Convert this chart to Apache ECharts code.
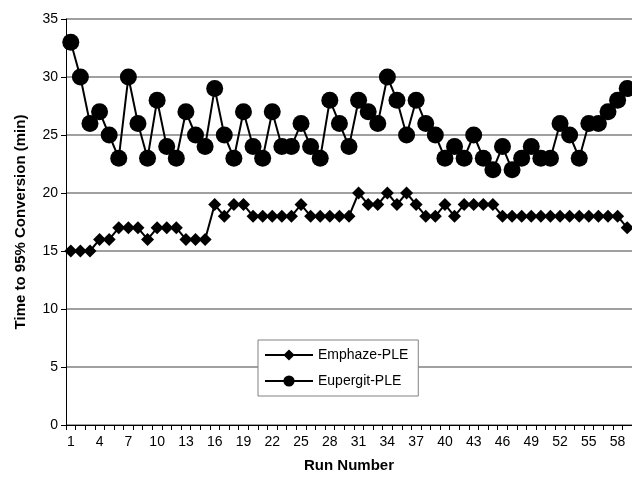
<!DOCTYPE html>
<html>
<head>
<meta charset="utf-8">
<script src="https://cdn.jsdelivr.net/npm/echarts@6/dist/echarts.min.js"></script>
<style>html,body{margin:0;padding:0;background:#fff}#c{width:632px;height:478px}</style>
</head>
<body>
<div id="c"></div>
<script>
var runs = [];
for (var i = 1; i <= 59; i++) runs.push(String(i));
var emphaze = [15,15,15,16,16,17,17,17,16,17,17,17,16,16,16,19,18,19,19,18,18,18,18,18,19,18,18,18,18,18,20,19,19,20,19,20,19,18,18,19,18,19,19,19,19,18,18,18,18,18,18,18,18,18,18,18,18,18,17];
var eupergit = [33,30,26,27,25,23,30,26,23,28,24,23,27,25,24,29,25,23,27,24,23,27,24,24,26,24,23,28,26,24,28,27,26,30,28,25,28,26,25,23,24,23,25,23,22,24,22,23,24,23,23,26,25,23,26,26,27,28,29];
var yTicks = [0,5,10,15,20,25,30,35];

var chart = echarts.init(document.getElementById('c'));
var font = 'Liberation Sans, Arial, sans-serif';
chart.setOption({
  animation: false,
  backgroundColor: '#fff',
  grid: {left: 66, top: 19, width: 569, height: 407, containLabel: false},
  legend: {
    orient: 'vertical', left: 258, top: 340,
    padding: [8, 10, 8, 6],
    itemGap: 12,
    itemWidth: 48, itemHeight: 14,
    borderColor: '#808080', borderWidth: 1,
    backgroundColor: '#fff',
    textStyle: {fontFamily: font, fontSize: 14, color: '#000'},
    data: ['Emphaze-PLE', 'Eupergit-PLE']
  },
  xAxis: {
    type: 'category', data: runs, boundaryGap: true,
    name: 'Run Number', nameLocation: 'middle', nameGap: 33,
    nameTextStyle: {fontFamily: font, fontSize: 15, fontWeight: 'bold', color: '#000'},
    axisLine: {lineStyle: {color: '#000', width: 1}},
    axisTick: {show: true, interval: 0, length: 5, lineStyle: {color: '#000'}},
    axisLabel: {interval: 2, fontFamily: font, fontSize: 14, color: '#000', margin: 10},
    splitLine: {show: false}
  },
  yAxis: {
    type: 'value', min: 0, max: 35, interval: 5,
    name: 'Time to 95% Conversion (min)', nameLocation: 'middle', nameGap: 38,
    nameTextStyle: {fontFamily: font, fontSize: 15, fontWeight: 'bold', color: '#000'},
    axisLine: {show: true, lineStyle: {color: '#000', width: 1}},
    axisTick: {show: true, length: 5, inside: false, lineStyle: {color: '#000'}},
    axisLabel: {fontFamily: font, fontSize: 14, color: '#000', margin: 8,
      formatter: function (v) { return yTicks.indexOf(v) >= 0 ? String(v) : ''; }},
    splitLine: {show: true, lineStyle: {color: '#808080', width: 1.5}}
  },
  series: [
    {
      name: 'Emphaze-PLE', type: 'line', data: emphaze,
      symbol: 'diamond', symbolSize: 13, showAllSymbol: true,
      itemStyle: {color: '#000'},
      lineStyle: {color: '#000', width: 2},
      z: 3
    },
    {
      name: 'Eupergit-PLE', type: 'line', data: eupergit,
      symbol: 'circle', symbolSize: 17, showAllSymbol: true,
      itemStyle: {color: '#000'},
      lineStyle: {color: '#000', width: 2},
      z: 4
    }
  ]
});
</script>
</body>
</html>
